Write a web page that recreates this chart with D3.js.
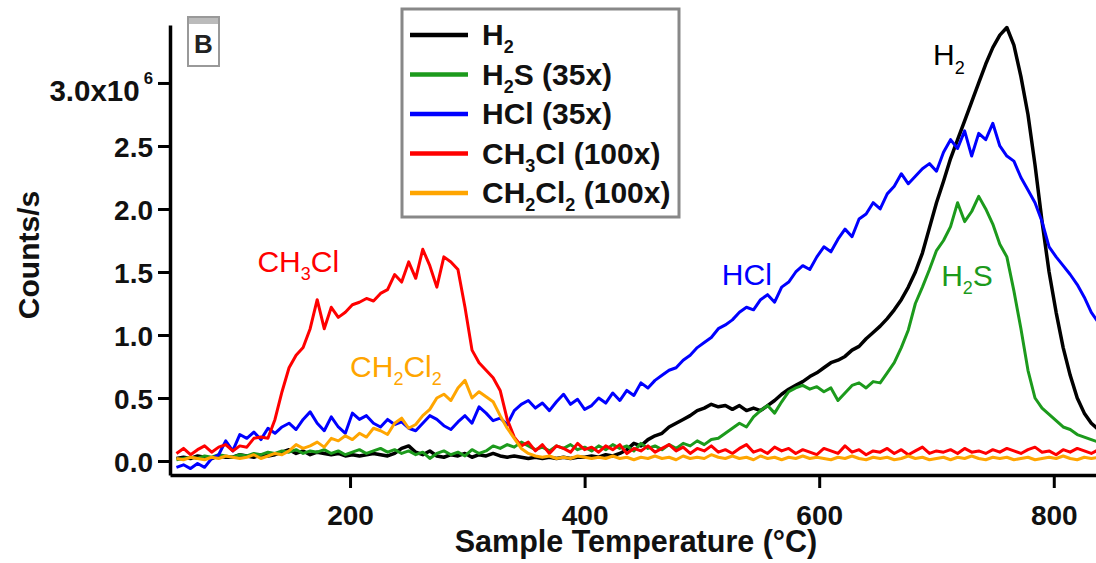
<!DOCTYPE html>
<html lang="en">
<head>
<meta charset="utf-8">
<title>TPD - panel B</title>
<script src="https://cdn.jsdelivr.net/npm/d3@7"></script>
<style>
  body { margin: 0; background: #fff; }
  #chart text { font-family: "Liberation Sans", Arial, sans-serif; }
</style>
</head>
<body>
<div id="chart"></div>
<script>
  // sample temperature (°C)
  const temps = [
    52, 58, 64, 70, 76, 82, 88, 94, 100, 106,
    112, 118, 124, 130, 136, 142, 148, 154, 160, 166,
    172, 178, 184, 190, 196, 202, 208, 214, 220, 226,
    232, 238, 244, 250, 256, 262, 268, 274, 280, 286,
    292, 298, 304, 310, 316, 322, 328, 334, 340, 346,
    352, 358, 364, 370, 376, 382, 388, 394, 400, 406,
    412, 418, 424, 430, 436, 442, 448, 454, 460, 466,
    472, 478, 484, 490, 496, 502, 508, 514, 520, 526,
    532, 538, 544, 550, 556, 562, 568, 574, 580, 586,
    592, 598, 604, 610, 616, 622, 628, 634, 640, 646,
    652, 658, 664, 670, 676, 682, 688, 694, 700, 706,
    712, 718, 724, 730, 736, 742, 748, 754, 760, 766,
    772, 778, 784, 790, 796, 802, 808, 814, 820, 826,
    832, 838
  ];

  // counts/s in units of 1e6 (scaled signals already multiplied)
  const h2 = [
    0.02, 0.03, 0.02, 0.04, 0.03, 0.02, 0.04, 0.03, 0.03, 0.05,
    0.04, 0.03, 0.05, 0.04, 0.05, 0.07, 0.09, 0.06, 0.08, 0.05,
    0.07, 0.06, 0.05, 0.06, 0.04, 0.05, 0.04, 0.05, 0.06, 0.05,
    0.04, 0.06, 0.10, 0.12, 0.07, 0.05, 0.08, 0.04, 0.03, 0.05,
    0.04, 0.06, 0.03, 0.05, 0.04, 0.06, 0.04, 0.03, 0.04, 0.03,
    0.02, 0.03, 0.02, 0.03, 0.02, 0.03, 0.02, 0.03, 0.03, 0.04,
    0.03, 0.05, 0.04, 0.06, 0.09, 0.14, 0.12, 0.17, 0.20, 0.22,
    0.27, 0.30, 0.33, 0.36, 0.40, 0.42, 0.45, 0.43, 0.44, 0.41,
    0.44, 0.40, 0.42, 0.40, 0.44, 0.48, 0.53, 0.57, 0.60, 0.63,
    0.67, 0.70, 0.74, 0.78, 0.80, 0.83, 0.88, 0.91, 0.97, 1.02,
    1.07, 1.13, 1.20, 1.28, 1.38, 1.50, 1.65, 1.85, 2.05, 2.22,
    2.40, 2.55, 2.70, 2.85, 3.00, 3.15, 3.28, 3.38, 3.44, 3.30,
    3.05, 2.75, 2.35, 1.90, 1.50, 1.18, 0.90, 0.68, 0.50, 0.38,
    0.30, 0.25
  ];
  const h2s = [
    0.01, 0.02, 0.03, 0.02, 0.04, 0.03, 0.05, 0.04, 0.03, 0.05,
    0.04, 0.06, 0.05, 0.07, 0.06, 0.08, 0.07, 0.09, 0.06, 0.08,
    0.07, 0.09, 0.06, 0.08, 0.05, 0.07, 0.09, 0.06, 0.08, 0.10,
    0.07, 0.09, 0.06, 0.08, 0.05, 0.07, 0.02, 0.06, 0.08, 0.05,
    0.07, 0.04, 0.09, 0.06, 0.08, 0.12, 0.10, 0.13, 0.11, 0.15,
    0.12, 0.09, 0.11, 0.08, 0.12, 0.10, 0.13, 0.09, 0.11, 0.08,
    0.12, 0.09, 0.13, 0.10, 0.12, 0.08, 0.14, 0.10, 0.12, 0.09,
    0.13, 0.10, 0.14, 0.12, 0.16, 0.13, 0.17, 0.18, 0.22, 0.26,
    0.30, 0.27, 0.35, 0.40, 0.44, 0.38, 0.47, 0.55, 0.58, 0.60,
    0.57, 0.59, 0.55, 0.58, 0.48, 0.54, 0.60, 0.62, 0.58, 0.63,
    0.62, 0.70, 0.78, 0.90, 1.04, 1.25, 1.38, 1.52, 1.67, 1.75,
    1.86, 2.05, 1.90, 1.98, 2.10, 2.00, 1.88, 1.72, 1.62, 1.35,
    1.05, 0.72, 0.50, 0.42, 0.37, 0.32, 0.27, 0.25, 0.21, 0.19,
    0.17, 0.15
  ];
  const hcl = [
    -0.05, -0.03, -0.06, -0.02, -0.05, 0.02, 0.05, 0.16, 0.08, 0.21,
    0.18, 0.23, 0.17, 0.26, 0.22, 0.27, 0.30, 0.25, 0.33, 0.39,
    0.30, 0.24, 0.35, 0.27, 0.22, 0.38, 0.33, 0.36, 0.30, 0.27,
    0.33, 0.29, 0.31, 0.26, 0.24, 0.30, 0.36, 0.33, 0.28, 0.25,
    0.31, 0.36, 0.30, 0.43, 0.38, 0.32, 0.34, 0.29, 0.40, 0.45,
    0.48, 0.42, 0.46, 0.40, 0.47, 0.53, 0.45, 0.49, 0.41, 0.44,
    0.50, 0.46, 0.54, 0.48, 0.56, 0.52, 0.62, 0.58, 0.64, 0.68,
    0.72, 0.74, 0.80, 0.84, 0.90, 0.94, 0.98, 1.05, 1.08, 1.12,
    1.18, 1.22, 1.20, 1.28, 1.32, 1.26, 1.38, 1.42, 1.50, 1.55,
    1.52, 1.62, 1.70, 1.66, 1.76, 1.84, 1.78, 1.92, 1.96, 2.05,
    2.00, 2.12, 2.18, 2.28, 2.20, 2.26, 2.32, 2.36, 2.30, 2.45,
    2.55, 2.48, 2.62, 2.42, 2.60, 2.55, 2.68, 2.50, 2.42, 2.38,
    2.25, 2.15, 2.05, 1.90, 1.70, 1.62, 1.55, 1.48, 1.40, 1.30,
    1.18, 1.10
  ];
  const ch3cl = [
    0.06, 0.10, 0.05, 0.09, 0.12, 0.07, 0.11, 0.13, 0.08, 0.12,
    0.11, 0.18, 0.19, 0.18, 0.33, 0.55, 0.74, 0.84, 0.90, 1.05,
    1.28, 1.05, 1.22, 1.14, 1.18, 1.24, 1.26, 1.29, 1.27, 1.33,
    1.36, 1.48, 1.42, 1.58, 1.45, 1.68, 1.55, 1.38, 1.62, 1.58,
    1.52, 1.22, 0.88, 0.78, 0.72, 0.66, 0.56, 0.33, 0.19, 0.12,
    0.15, 0.08, 0.13, 0.06, 0.12, 0.10, 0.07, 0.14, 0.09, 0.11,
    0.07, 0.12, 0.09, 0.13, 0.06, 0.10, 0.08, 0.12, 0.07, 0.10,
    0.13, 0.08, 0.11, 0.06, 0.10, 0.08, 0.12, 0.07, 0.09, 0.06,
    0.10, 0.13, 0.07, 0.09, 0.06, 0.11, 0.08, 0.10, 0.06, 0.09,
    0.07, 0.05, 0.10, 0.08, 0.06, 0.12, 0.07, 0.09, 0.05, 0.08,
    0.07, 0.10, 0.06, 0.09, 0.05, 0.08, 0.11, 0.06, 0.08, 0.07,
    0.09, 0.06, 0.10, 0.07, 0.08, 0.06, 0.09, 0.07, 0.10, 0.08,
    0.06, 0.09, 0.11, 0.07, 0.08, 0.05, 0.09, 0.07, 0.10, 0.08,
    0.06, 0.09
  ];
  const ch2cl2 = [
    0.02, 0.01, 0.03, 0.02, 0.01, 0.03, 0.02, 0.04, 0.03, 0.02,
    0.03, 0.05, 0.02, 0.04, 0.06, 0.05, 0.08, 0.13, 0.10, 0.12,
    0.15, 0.11, 0.18, 0.16, 0.20, 0.17, 0.22, 0.19, 0.26, 0.24,
    0.21, 0.30, 0.34, 0.26, 0.29, 0.36, 0.41, 0.50, 0.53, 0.48,
    0.58, 0.64, 0.50, 0.55, 0.51, 0.47, 0.36, 0.26, 0.18, 0.10,
    0.06, 0.04, 0.03, 0.04, 0.02, 0.03, 0.02, 0.04, 0.03, 0.02,
    0.03, 0.02, 0.04, 0.02, 0.03, 0.01, 0.03, 0.02, 0.04, 0.02,
    0.03, 0.01, 0.04, 0.02, 0.03, 0.02, 0.05, 0.03, 0.02, 0.04,
    0.02, 0.03, 0.01, 0.04, 0.02, 0.03, 0.01, 0.03, 0.02, 0.04,
    0.02, 0.03, 0.02, 0.01, 0.03, 0.02, 0.04, 0.02, 0.01, 0.03,
    0.02, 0.03, 0.01, 0.02, 0.04, 0.02, 0.03, 0.01, 0.02, 0.03,
    0.01, 0.03, 0.02, 0.04, 0.02, 0.01, 0.03, 0.02, 0.03, 0.01,
    0.02, 0.03, 0.01, 0.02, 0.03, 0.02, 0.04, 0.02, 0.01, 0.03,
    0.02, 0.03
  ];

  // "_" marks a one-character subscript
  const seriesNames = ["H_2", "H_2S (35x)", "HCl (35x)", "CH_3Cl (100x)", "CH_2Cl_2 (100x)"];
  const seriesColors = ["#000000", "#1c9a1c", "#0000ff", "#ff0000", "#ffa500"];
  const seriesValues = [h2, h2s, hcl, ch3cl, ch2cl2];

  const xTicks = [200, 400, 600, 800];
  const yTicks = [0, 0.5, 1.0, 1.5, 2.0, 2.5, 3.0];

  // peak labels anchored in data space (temperature, counts/s)
  const notes = [
    { text: "H_2", color: "#000000", t: 697, v: 3.14 },
    { text: "HCl", color: "#0000ff", t: 517, v: 1.40 },
    { text: "H_2S", color: "#1c9a1c", t: 704, v: 1.39 },
    { text: "CH_3Cl", color: "#ff0000", t: 121, v: 1.50 },
    { text: "CH_2Cl_2", color: "#ffa500", t: 200, v: 0.67 }
  ];

  var width = 1096, height = 563;
  var margin = { top: 25, right: 0, bottom: 88, left: 170 };
  var fs = 28, fsBig = 30;

  var svg = d3.select("#chart").append("svg")
    .attr("width", width)
    .attr("height", height);

  var x = d3.scaleLinear().domain([46.5, 836]).range([margin.left, width - margin.right]);
  var y = d3.scaleLinear().domain([-0.111, 3.46]).range([height - margin.bottom, margin.top]);

  // write a label with subscripts into a text element
  function richText(sel, str, size) {
    let parts = str.split(/(_.)/);
    let shift = 0;
    parts.forEach(function (p) {
      if (!p) return;
      if (p[0] === "_") {
        sel.append("tspan").attr("dy", size * 0.28 - shift).attr("font-size", size * 0.6).text(p[1]);
        shift = size * 0.28;
      } else {
        sel.append("tspan").attr("dy", -shift).text(p);
        shift = 0;
      }
    });
  }

  svg.append("clipPath").attr("id", "plot-clip")
    .append("rect")
    .attr("x", margin.left).attr("y", 0)
    .attr("width", width - margin.left).attr("height", height - margin.bottom);

  // data lines
  var line = d3.line()
    .x(function (d, i) { return x(temps[i]); })
    .y(function (d) { return y(d); });

  svg.append("g").attr("clip-path", "url(#plot-clip)")
    .selectAll("path")
    .data(seriesValues)
    .enter()
    .append("path")
    .attr("d", line)
    .attr("fill", "none")
    .attr("stroke", function (d, i) { return seriesColors[i]; })
    .attr("stroke-width", function (d, i) { return i === 0 ? 3.5 : 3; })
    .attr("stroke-linejoin", "round");

  // axes
  var xAxis = svg.append("g")
    .attr("transform", "translate(0," + (height - margin.bottom) + ")")
    .call(d3.axisBottom(x).tickValues(xTicks).tickSize(13).tickSizeOuter(0).tickPadding(17));

  var yAxis = svg.append("g")
    .attr("transform", "translate(" + margin.left + ",0)")
    .call(d3.axisLeft(y).tickValues(yTicks).tickSize(12).tickSizeOuter(0).tickPadding(5)
      .tickFormat(d3.format(".1f")));

  [xAxis, yAxis].forEach(function (a) {
    a.select(".domain").attr("stroke", "#000").attr("stroke-width", 3.5);
    a.selectAll(".tick line").attr("stroke", "#000").attr("stroke-width", 3);
    a.selectAll(".tick text")
      .attr("font-size", fs)
      .attr("font-weight", "bold")
      .attr("fill", "#111");
  });
  yAxis.selectAll(".tick text").attr("dy", "0.39em");

  // top label gets the exponent
  yAxis.selectAll(".tick text")
    .filter(function (d) { return d === 3.0; })
    .attr("font-size", 29.5)
    .attr("x", -17)
    .text("3.0x10")
    .attr("dy", "0.58em")
    .append("tspan")
    .attr("font-size", fs * 0.6)
    .attr("dx", 4)
    .attr("dy", "-1.0em")
    .text("6");

  // axis titles
  svg.append("text")
    .attr("x", (margin.left + width) / 2 + 3)
    .attr("y", 552)
    .attr("text-anchor", "middle")
    .attr("font-size", fsBig + 0.5)
    .attr("font-weight", "bold")
    .attr("fill", "#111")
    .text("Sample Temperature (°C)");

  svg.append("text")
    .attr("transform", "translate(39,255) rotate(-90)")
    .attr("text-anchor", "middle")
    .attr("font-size", fsBig)
    .attr("font-weight", "bold")
    .attr("fill", "#111")
    .text("Counts/s");

  // panel tag
  var tag = svg.append("g").attr("transform", "translate(188,17)");
  tag.append("rect").attr("width", 31).attr("height", 49)
    .attr("fill", "#fff").attr("stroke", "#999").attr("stroke-width", 2);
  tag.append("rect").attr("x", 1).attr("y", 1).attr("width", 29).attr("height", 6).attr("fill", "#bbb");
  tag.append("text").attr("x", 15.5).attr("y", 36)
    .attr("text-anchor", "middle")
    .attr("font-size", 26).attr("font-weight", "bold").attr("fill", "#222")
    .text("B");

  // legend
  var legend = svg.append("g").attr("transform", "translate(402,9)");
  legend.append("rect")
    .attr("width", 277).attr("height", 208)
    .attr("fill", "#fff").attr("stroke", "#888").attr("stroke-width", 3);

  var item = legend.selectAll(".item")
    .data(seriesNames)
    .enter()
    .append("g")
    .attr("class", "item")
    .attr("transform", function (d, i) { return "translate(0," + (26 + i * 39.5) + ")"; });

  item.append("line")
    .attr("x1", 8).attr("x2", 66)
    .attr("stroke", function (d, i) { return seriesColors[i]; })
    .attr("stroke-width", 4.5);

  item.append("text")
    .attr("x", 80).attr("y", 10)
    .attr("font-size", fsBig)
    .attr("font-weight", "bold")
    .attr("fill", "#111")
    .each(function (d) { richText(d3.select(this), d, fsBig); });

  // peak labels
  svg.selectAll(".note")
    .data(notes)
    .enter()
    .append("text")
    .attr("class", "note")
    .attr("x", function (d) { return x(d.t); })
    .attr("y", function (d) { return y(d.v); })
    .attr("font-size", fsBig)
    .attr("fill", function (d) { return d.color; })
    .each(function (d) { richText(d3.select(this), d.text, fsBig); });
</script>
</body>
</html>
